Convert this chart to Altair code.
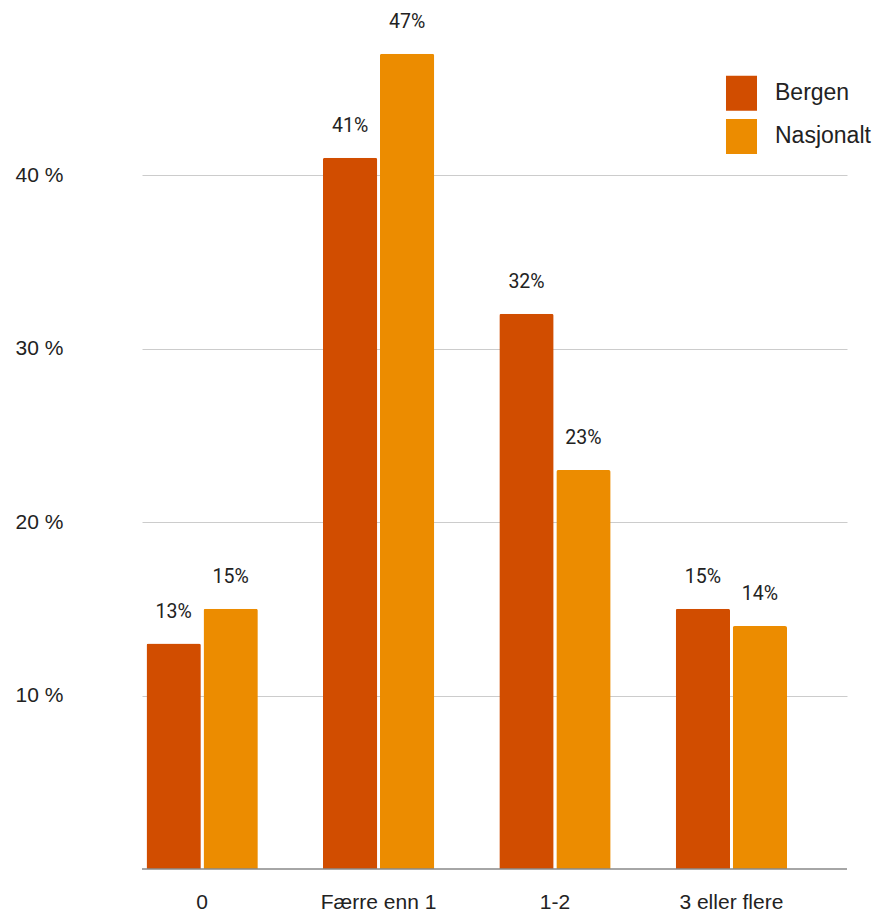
import altair as alt
import pandas as pd

categories = ["0", "Færre enn 1", "1-2", "3 eller flere"]
series = ["Bergen", "Nasjonalt"]
bergen = [13, 41, 32, 15]
nasjonalt = [15, 47, 23, 14]
colors = ["#d14d00", "#ec8c00"]
y_ticks = [10, 20, 30, 40]

rows = []
for c, b, n in zip(categories, bergen, nasjonalt):
    rows.append({"kategori": c, "serie": "Bergen", "verdi": b})
    rows.append({"kategori": c, "serie": "Nasjonalt", "verdi": n})
df = pd.DataFrame(rows)

AX_FONT = "Arial, Liberation Sans, sans-serif"

x_enc = alt.X(
    "kategori:N",
    sort=categories,
    scale=alt.Scale(paddingInner=0.369, paddingOuter=0.1828, align=0.07),
    axis=alt.Axis(
        title=None,
        labelAngle=0,
        labelFont=AX_FONT,
        labelFontSize=21,
        labelColor="#222222",
        labelPadding=22,
        ticks=False,
        domain=False,
        grid=False,
    ),
)
xoff_enc = alt.XOffset(
    "serie:N", sort=series, scale=alt.Scale(paddingInner=0.047, paddingOuter=0)
)
y_enc = alt.Y(
    "verdi:Q",
    scale=alt.Scale(domain=[0, 49.63], nice=False, zero=True),
    axis=alt.Axis(
        title=None,
        values=y_ticks,
        labelExpr="datum.value + ' %'",
        labelFont=AX_FONT,
        labelFontSize=21,
        labelColor="#222222",
        labelAlign="left",
        labelBaseline="middle",
        labelPadding=127,
        ticks=False,
        domain=False,
        grid=True,
        gridColor="#cccccc",
        gridWidth=1,
    ),
)

bars = alt.Chart(df).mark_bar(cornerRadiusTopLeft=2, cornerRadiusTopRight=2).encode(
    x=x_enc,
    xOffset=xoff_enc,
    y=y_enc,
    color=alt.Color(
        "serie:N",
        sort=series,
        scale=alt.Scale(domain=series, range=colors),
        legend=alt.Legend(
            title=None,
            orient="none",
            legendX=582,
            legendY=67.7,
            direction="vertical",
            symbolType="M-0.886,-1H0.886V1H-0.886Z",
            symbolSize=1225,
            symbolStrokeWidth=0,
            symbolOpacity=1,
            labelFont=AX_FONT,
            labelFontSize=23,
            labelColor="#222222",
            labelOffset=16,
            rowPadding=8.2,
            padding=0,
        ),
    ),
)

labels = (
    alt.Chart(df)
    .transform_calculate(tekst="datum.verdi + '%'")
    .mark_text(
        font="Roboto",
        fontSize=19.5,
        color="#222222",
        baseline="alphabetic",
        align="center",
        dy=-25.7,
    )
    .encode(x=x_enc, xOffset=xoff_enc, y=y_enc, text="tekst:N")
)

baseline = alt.Chart(pd.DataFrame({"v": [0]})).mark_rule(
    color="#888888", strokeWidth=1.5
).encode(y=alt.Y("v:Q"))

chart = (
    alt.layer(bars, labels, baseline)
    .properties(
        width=705,
        height=861,
        autosize=alt.AutoSizeParams(type="none"),
        padding={"left": 134, "top": 0, "right": 26, "bottom": 43},
    )
    .configure_view(stroke=None)
)

chart.save("out.html", embed_options={"renderer": "svg", "actions": False})
